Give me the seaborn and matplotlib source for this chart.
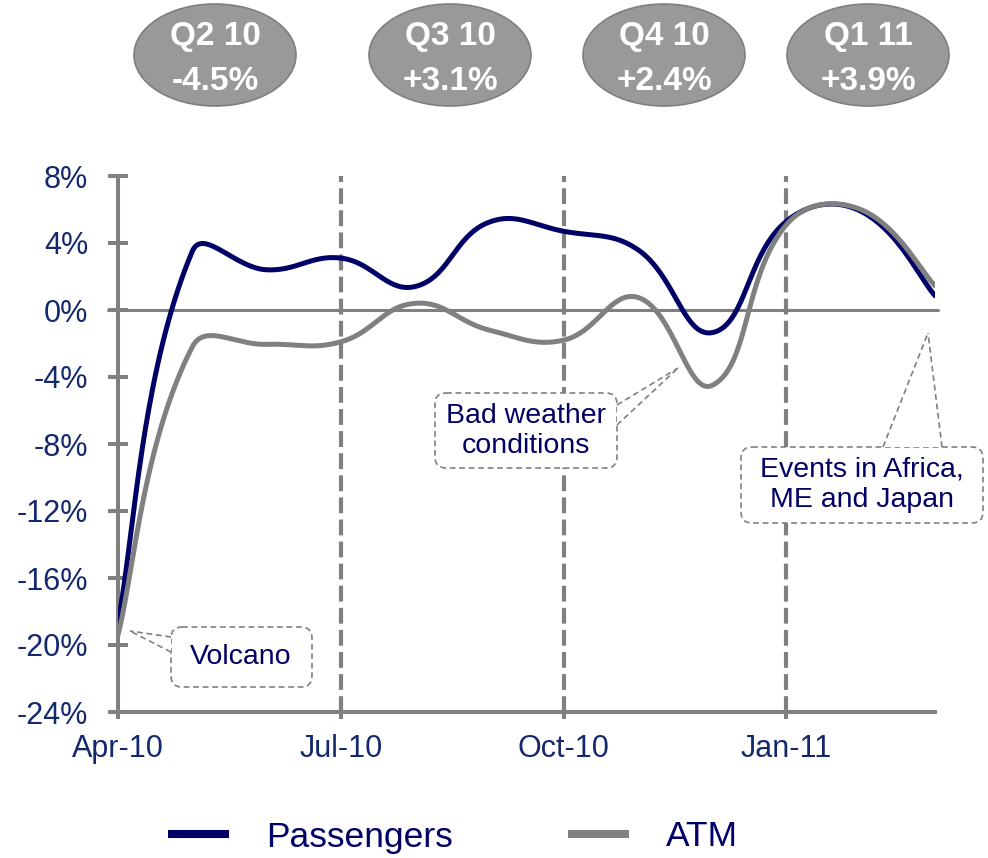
import numpy as np
import pandas as pd
import seaborn as sns
import matplotlib
matplotlib.use("Agg")
import matplotlib.pyplot as plt
from matplotlib.patches import Ellipse, FancyBboxPatch, Polygon
from matplotlib.transforms import Affine2D
from matplotlib.lines import Line2D

# ---------------- data ----------------
months = ["Apr-10", "May-10", "Jun-10", "Jul-10", "Aug-10", "Sep-10",
          "Oct-10", "Nov-10", "Dec-10", "Jan-11", "Feb-11", "Mar-11"]
passengers = [-18.6, 3.5, 2.4, 3.1, 1.4, 5.25, 4.7, 3.6, -1.35, 5.3, 5.9, 0.85]
atm = [-19.4, -2.2, -2.05, -1.9, 0.4, -1.2, -1.8, 0.75, -4.5, 5.1, 6.0, 1.45]
series_names = ["Passengers", "ATM"]
x_tick_labels = ["Apr-10", "Jul-10", "Oct-10", "Jan-11"]
y_ticks = [8, 4, 0, -4, -8, -12, -16, -20, -24]
quarters = ["Q2 10", "Q3 10", "Q4 10", "Q1 11"]
quarter_growth = ["-4.5%", "+3.1%", "+2.4%", "+3.9%"]
callout_texts = ["Volcano", "Bad weather\nconditions", "Events in Africa,\nME and Japan"]

NAVY = "#000066"
GREY = "#808080"
TICKC = "#14286e"

# ---------------- style ----------------
sns.set_theme(style="white")
plt.rcParams["font.family"] = ["Liberation Sans", "DejaVu Sans"]

W, H = 988, 858
fig = plt.figure(figsize=(W / 100, H / 100), dpi=100)
ax_l, ax_r, ax_t, ax_b = 118, 935, 176, 712
ax = fig.add_axes([ax_l / W, 1 - ax_b / H, (ax_r - ax_l) / W, (ax_b - ax_t) / H])

# pixel coordinates with origin at the top-left corner of the figure
PX = Affine2D().scale(1, -1).translate(0, H)

# ------------- smoothed line (Excel-like bezier smoothing) -------------
sx = (ax_r - ax_l) / 11.0
sy = (ax_b - ax_t) / 32.0


def smooth(vals, k=0.42, n=40):
    xs = np.arange(len(vals), dtype=float)
    P = np.column_stack([xs * sx, np.asarray(vals, float) * sy])
    N = len(P)
    plus = np.zeros_like(P)
    minus = np.zeros_like(P)
    for i in range(N):
        if i == 0:
            plus[i] = P[0] + (P[1] - P[0]) * k * 0.5
            continue
        if i == N - 1:
            minus[i] = P[i] - (P[i] - P[i - 1]) * k * 0.5
            continue
        T = P[i + 1] - P[i - 1]
        dp = np.linalg.norm(P[i] - P[i - 1])
        dn = np.linalg.norm(P[i + 1] - P[i])
        plus[i] = P[i] + T * k * dn / (dp + dn)
        minus[i] = P[i] - T * k * dp / (dp + dn)
    out = []
    t = np.linspace(0, 1, n)[:, None]
    for i in range(N - 1):
        B = ((1 - t) ** 3 * P[i] + 3 * (1 - t) ** 2 * t * plus[i]
             + 3 * (1 - t) * t ** 2 * minus[i + 1] + t ** 3 * P[i + 1])
        out.append(B if i == 0 else B[1:])
    out = np.vstack(out)
    return out[:, 0] / sx, out[:, 1] / sy


frames = []
for name, vals in zip(series_names, [passengers, atm]):
    xx, yy = smooth(vals)
    frames.append(pd.DataFrame({"x": xx, "y": yy, "series": name}))
df = pd.concat(frames, ignore_index=True)

# ---------------- reference lines ----------------
for xv in [3, 6, 9]:
    ax.axvline(xv, color=GREY, lw=3.0, ls=(0, (3.8, 1.5)), zorder=1)
ax.axhline(0, xmin=-0.012, xmax=1.004, color=GREY, lw=2.2, zorder=1.5, clip_on=False)

# ---------------- series ----------------
sns.lineplot(data=df, x="x", y="y", hue="series", hue_order=series_names,
             palette={"Passengers": NAVY, "ATM": GREY}, sort=False,
             estimator=None, lw=3.6, legend=False, ax=ax, zorder=3)

# ---------------- axes ----------------
ax.set_xlim(0, 11)
ax.set_ylim(-24, 8)
ax.set_xticks([0, 3, 6, 9])
ax.set_xticklabels(x_tick_labels)
ax.set_yticks(y_ticks)
ax.set_yticklabels([f"{v}%" for v in y_ticks])
ax.set_xlabel("")
ax.set_ylabel("")
for s in ["top", "right"]:
    ax.spines[s].set_visible(False)
for s in ["left", "bottom"]:
    ax.spines[s].set_color(GREY)
    ax.spines[s].set_linewidth(2.9)
ax.tick_params(axis="y", direction="inout", length=14, width=2.9, color=GREY,
               labelsize=22, labelcolor=TICKC, pad=14.5, left=True)
ax.tick_params(axis="x", direction="inout", length=10, width=2.9, color=GREY,
               labelsize=22, labelcolor=TICKC, pad=11, bottom=True)
ax.grid(False)


# ---------------- callouts ----------------
def callout(box, base1, base2, tip, text, tx, ty, ls=1.0):
    x0, y0, x1, y1 = box
    rect = FancyBboxPatch((x0, y0), x1 - x0, y1 - y0,
                          boxstyle="round,pad=0,rounding_size=11",
                          transform=PX, facecolor="white", edgecolor=GREY,
                          lw=1.2, ls=(0, (3.5, 2.2)), zorder=2.5, clip_on=False)
    fig.add_artist(rect)
    wedge = Polygon([base1, tip, base2], closed=True, transform=PX,
                    facecolor="white", edgecolor="none", zorder=2.6, clip_on=False)
    fig.add_artist(wedge)
    for a in (base1, base2):
        fig.add_artist(Line2D([a[0], tip[0]], [a[1], tip[1]], transform=PX,
                              color=GREY, lw=1.2, ls=(0, (3.5, 2.2)), zorder=2.7))
    fig.text(tx, ty, text, transform=PX, ha="center", va="center",
             fontsize=20.5, color=NAVY, linespacing=ls, zorder=2.8)


callout((171, 627, 312, 687), (171, 637), (171, 652), (130, 631),
        callout_texts[0], 241, 657)
callout((435, 393, 617, 468), (617, 405), (617, 425), (678, 368),
        callout_texts[1], 526, 431, ls=1.2)
callout((741, 447, 983, 523), (883, 447), (942, 447), (928, 333),
        callout_texts[2], 862, 485, ls=1.2)

# ---------------- quarter bubbles ----------------
q_centers = [215, 450, 664, 868]
for cx, q, g in zip(q_centers, quarters, quarter_growth):
    e = Ellipse((cx, 55), 162, 102, transform=PX, facecolor="#999999",
                edgecolor="#7f7f7f", lw=1.2, zorder=2)
    fig.add_artist(e)
    fig.text(cx, 37, q, transform=PX, ha="center", va="center", fontsize=24,
             fontweight="bold", color="white", zorder=3)
    fig.text(cx, 82, g, transform=PX, ha="center", va="center", fontsize=24,
             fontweight="bold", color="white", zorder=3)

# ---------------- legend ----------------
handles = [Line2D([], [], color=NAVY, lw=5.8, solid_capstyle="butt"),
           Line2D([], [], color=GREY, lw=5.8, solid_capstyle="butt")]
fig.legend(handles, series_names, loc="center", bbox_to_anchor=(453 / W, 1 - 837 / H),
           ncol=2, frameon=False, fontsize=25.5, handlelength=1.72,
           handletextpad=1.05, columnspacing=3.25, labelcolor=NAVY)

fig.savefig("out.png", dpi=100)
